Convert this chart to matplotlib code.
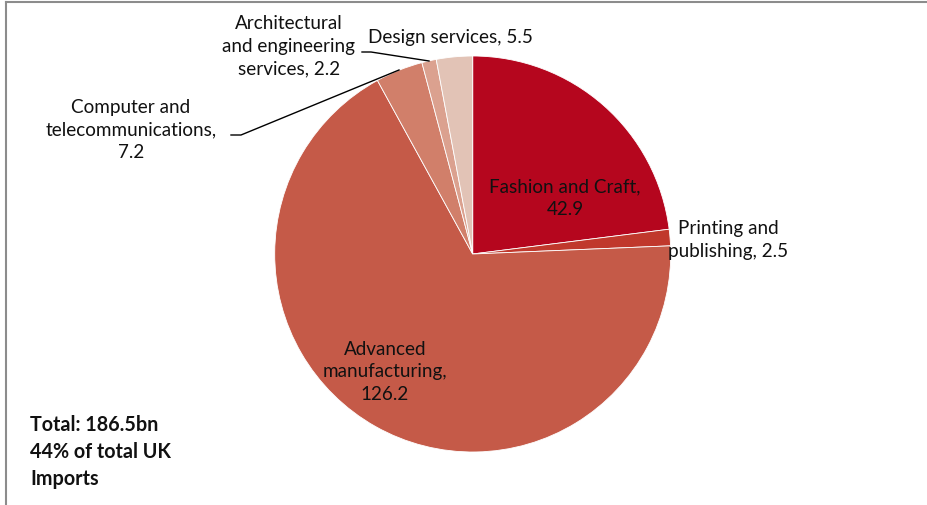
import matplotlib.pyplot as plt

# UK creative-industry imports by sector (£bn)
sectors = ["Fashion and Craft", "Printing and publishing", "Advanced manufacturing",
           "Computer and telecommunications", "Architectural and engineering services",
           "Design services"]
values = [42.9, 2.5, 126.2, 7.2, 2.2, 5.5]
label_texts = ["Fashion and Craft,\n42.9", "Printing and\npublishing, 2.5",
               "Advanced\nmanufacturing,\n126.2", "Computer and\ntelecommunications,\n7.2",
               "Architectural\nand engineering\nservices, 2.2", "Design services, 5.5"]
colors = ["#B5061E", "#C0382C", "#C55A48", "#D17F6A", "#DBA18F", "#E2C3B6"]
summary = "Total: 186.5bn\n44% of total UK\nImports"

W, H = 927, 506
fig = plt.figure(figsize=(W / 100, H / 100), dpi=100)
ax = fig.add_axes([0, 0, 1, 1])


def py(y):
    """Convert a top-down pixel row to the axes' bottom-up y."""
    return H - y


cx, cy, r = 472.7, 255, 198
ax.pie(values, colors=colors, startangle=90, counterclock=False,
       center=(cx, py(cy)), radius=r, frame=False,
       wedgeprops=dict(edgecolor="white", linewidth=0.6))
ax.set_xlim(0, W)
ax.set_ylim(0, H)
ax.set_aspect("equal")
ax.axis("off")

font = dict(family=["Lato", "DejaVu Sans"], fontsize=13.6, color="#111111",
            ha="center", va="center", linespacing=1.42)

label_pos = [(565, 198), (728, 240), (385, 372), (131, 130), (289, 46), (450, 37)]
for txt, (x, y) in zip(label_texts, label_pos):
    ax.text(x, py(y), txt, **font)

# leader lines for the narrow slices
ax.plot([231, 241, 399], [py(136), py(136), py(71)], color="black", lw=1)
ax.plot([362, 371, 429], [py(53), py(53), py(62)], color="black", lw=1)

ax.text(30, py(452), summary, family=["Lato", "DejaVu Sans"], fontsize=14.2,
        fontweight="bold", color="#111111", ha="left", va="center", linespacing=1.42)

# chart area border (left and top edges visible)
ax.plot([6, 6], [0, py(3)], color="#8c8c8c", lw=1.5, clip_on=False)
ax.plot([6, W], [py(3), py(3)], color="#8c8c8c", lw=1.5, clip_on=False)

fig.savefig("out.png", dpi=100)
